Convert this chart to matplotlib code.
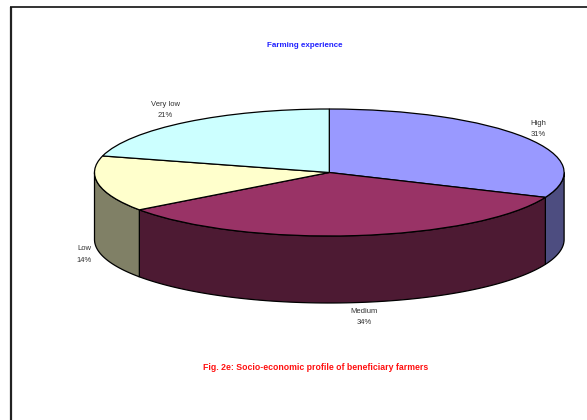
import numpy as np
import matplotlib
matplotlib.use("Agg")
import matplotlib.pyplot as plt

#chart values
labels = ['High', 'Medium', 'Low', 'Very low']
values = [31.4, 33.6, 14.2, 20.8]
top_colors = ['#9999FF', '#993366', '#FFFFCC', '#CCFFFF']
side_colors = ['#4D4D80', '#4D1A33', '#808066', '#668080']
title = 'Farming experience'
caption = 'Fig. 2e: Socio-economic profile of beneficiary farmers'

W, H = 587, 420
plt.rcParams['font.family'] = ['Liberation Sans', 'DejaVu Sans']

fig = plt.figure(figsize=(W/100, H/100), dpi=100)
bg = fig.add_axes([0, 0, 1, 1])
bg.set_xlim(0, W); bg.set_ylim(H, 0); bg.axis('off')

#frame, open on right and bottom like the cropped page
bg.plot([11, 11], [H, 6.5], color='#222222', lw=1.6, solid_capstyle='butt')
bg.plot([10.4, W], [6.5, 6.5], color='#111111', lw=1.2, solid_capstyle='butt')

#pie axes: one data unit = one radius, flattened by the axes box
cx, cy, rx, ry = 329.3, 172.5, 234.8, 63.5
depth = 67 / ry
xmin, xmax = (0 - cx) / rx, (W - cx) / rx
ymin, ymax = -(H - cy) / ry, cy / ry
ax = fig.add_axes([0, 0, 1, 1])
ax.patch.set_alpha(0)

wedges, _ = ax.pie(values, startangle=90, counterclock=False, colors=top_colors,
                   wedgeprops=dict(edgecolor='black', linewidth=0.9))
for w in wedges:
    w.set_zorder(3)
ax.set_aspect('auto')
ax.set_xlim(xmin, xmax); ax.set_ylim(ymin, ymax)
ax.axis('off')

#side walls, only the part of each slice on the front half
start = 90.0
for v, c in zip(values, side_colors):
    end = start - v / sum(values) * 360
    a0, a1 = max(end, -180), min(start, 0)
    if a1 > a0:
        t = np.radians(np.linspace(a0, a1, 80))
        xs = np.cos(t)
        ys = np.sin(t)
        ax.fill(np.r_[xs, xs[::-1]], np.r_[ys, ys[::-1] - depth],
                facecolor=c, edgecolor='black', linewidth=0.9, zorder=2)
    start = end

def lab(x, y, s):
    bg.text(x, y, s, ha='center', va='center', fontsize=5.5, color='#333333',
            linespacing=1.8, zorder=5)

lab(538.5, 129, labels[0] + '\n%.0f%%' % values[0])
lab(364, 317, labels[1] + '\n%.0f%%' % values[1])
lab(84, 254.5, labels[2] + '\n%.0f%%' % values[2])
lab(165.5, 110, labels[3] + '\n%.0f%%' % values[3])

bg.text(305, 45.7, title, ha='center', va='center', fontsize=5.8,
        fontweight='bold', color='#2222FF')
bg.text(315.5, 367, caption, ha='center', va='center', fontsize=6.3,
        fontweight='bold', color='#FF1010')

fig.savefig('out.png', dpi=100)
